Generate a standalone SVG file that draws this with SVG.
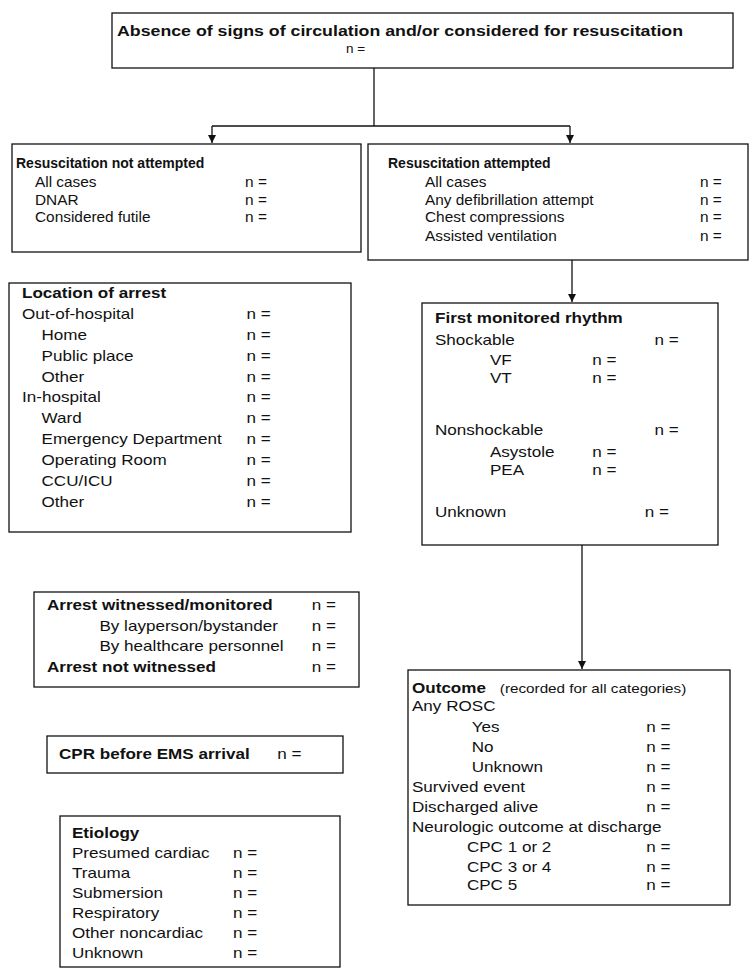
<svg xmlns="http://www.w3.org/2000/svg" width="753" height="975" viewBox="0 0 753 975">
<defs>
<marker id="arr" viewBox="0 0 10 10" refX="10" refY="5" markerWidth="9" markerHeight="8" orient="auto" markerUnits="userSpaceOnUse">
<path d="M0,0 L10,5 L0,10 z" fill="#111"/>
</marker>
<style>
.box{fill:#fff;stroke:#111;stroke-width:1.3}
.c{fill:none;stroke:#111;stroke-width:1.3}
text{font-family:"Liberation Sans",Arial,sans-serif;fill:#111}
.h{font-weight:bold;font-size:14px}
.t{font-size:14px}
.t13{font-size:13.5px}
.s{font-size:12.5px;font-weight:normal}
</style>
</defs>
<rect width="753" height="975" fill="#fff"/>

<g id="connectors">
<path class="c" d="M374,68 V126"/>
<path class="c" d="M212,126 H570"/>
<path class="c" d="M212,126 V143" marker-end="url(#arr)"/>
<path class="c" d="M570,126 V143" marker-end="url(#arr)"/>
<path class="c" d="M572,260 V302" marker-end="url(#arr)"/>
<path class="c" d="M582,545 V669" marker-end="url(#arr)"/>
</g>

<g id="top">
<rect class="box" x="112" y="13" width="621" height="55"/>
<text font-weight="bold" font-size="15" x="117" y="36" textLength="566" lengthAdjust="spacingAndGlyphs">Absence of signs of circulation and/or considered for resuscitation</text>
<text class="t13" x="346" y="53">n =</text>
</g>

<g id="not-attempted">
<rect class="box" x="12" y="144" width="349" height="108"/>
<text class="h" x="16" y="168">Resuscitation not attempted</text>
<g transform="matrix(1.1,0,0,1,-3.5,0)">
<text class="t" x="35" y="187">All cases</text><text class="t" x="226" y="187">n =</text>
<text class="t" x="35" y="205">DNAR</text><text class="t" x="226" y="205">n =</text>
<text class="t" x="35" y="222">Considered futile</text><text class="t" x="226" y="222">n =</text>
</g>
</g>

<g id="attempted">
<rect class="box" x="368" y="144" width="380" height="116"/>
<text class="h" x="388" y="168">Resuscitation attempted</text>
<g transform="matrix(1.1,0,0,1,-42.5,0)">
<text class="t" x="425" y="187">All cases</text><text class="t" x="675" y="187">n =</text>
<text class="t" x="425" y="205">Any defibrillation attempt</text><text class="t" x="675" y="205">n =</text>
<text class="t" x="425" y="222">Chest compressions</text><text class="t" x="675" y="222">n =</text>
<text class="t" x="425" y="241">Assisted ventilation</text><text class="t" x="675" y="241">n =</text>
</g>
</g>

<g id="rhythm">
<rect class="box" x="422" y="303" width="296" height="242"/>
<g transform="matrix(1.22,0,0,1,-95.7,0)">
<text class="h" x="435" y="323">First monitored rhythm</text>
<text class="t" x="435" y="345">Shockable</text><text class="t" x="615" y="345">n =</text>
<text class="t" x="480" y="365">VF</text><text class="t" x="564" y="365">n =</text>
<text class="t" x="480" y="383">VT</text><text class="t" x="564" y="383">n =</text>
<text class="t" x="435" y="435">Nonshockable</text><text class="t" x="615" y="435">n =</text>
<text class="t" x="480" y="457">Asystole</text><text class="t" x="564" y="457">n =</text>
<text class="t" x="480" y="475">PEA</text><text class="t" x="564" y="475">n =</text>
<text class="t" x="435" y="517">Unknown</text><text class="t" x="607" y="517">n =</text>
</g>
</g>

<g id="outcome">
<rect class="box" x="408" y="670" width="322" height="235"/>
<g transform="matrix(1.22,0,0,1,-90.64,0)">
<text class="h" x="412" y="693">Outcome<tspan class="s" x="484">(recorded for all categories)</tspan></text>
<text class="t" x="412" y="711">Any ROSC</text>
<text class="t" x="461" y="732">Yes</text><text class="t" x="604" y="732">n =</text>
<text class="t" x="461" y="752">No</text><text class="t" x="604" y="752">n =</text>
<text class="t" x="461" y="772">Unknown</text><text class="t" x="604" y="772">n =</text>
<text class="t" x="412" y="792">Survived event</text><text class="t" x="604" y="792">n =</text>
<text class="t" x="412" y="812">Discharged alive</text><text class="t" x="604" y="812">n =</text>
<text class="t" x="412" y="832">Neurologic outcome at discharge</text>
<text class="t" x="457" y="852">CPC 1 or 2</text><text class="t" x="604" y="852">n =</text>
<text class="t" x="457" y="872">CPC 3 or 4</text><text class="t" x="604" y="872">n =</text>
<text class="t" x="457" y="890">CPC 5</text><text class="t" x="604" y="890">n =</text>
</g>
</g>

<g id="location">
<rect class="box" x="9" y="283" width="342" height="249"/>
<g transform="matrix(1.22,0,0,1,-4.84,0)">
<text class="h" x="22" y="298">Location of arrest</text>
<text class="t" x="22" y="319">Out-of-hospital</text><text class="t" x="206" y="319">n =</text>
<text class="t" x="38" y="340">Home</text><text class="t" x="206" y="340">n =</text>
<text class="t" x="38" y="361">Public place</text><text class="t" x="206" y="361">n =</text>
<text class="t" x="38" y="382">Other</text><text class="t" x="206" y="382">n =</text>
<text class="t" x="22" y="402">In-hospital</text><text class="t" x="206" y="402">n =</text>
<text class="t" x="38" y="423">Ward</text><text class="t" x="206" y="423">n =</text>
<text class="t" x="38" y="444">Emergency Department</text><text class="t" x="206" y="444">n =</text>
<text class="t" x="38" y="465">Operating Room</text><text class="t" x="206" y="465">n =</text>
<text class="t" x="38" y="486">CCU/ICU</text><text class="t" x="206" y="486">n =</text>
<text class="t" x="38" y="507">Other</text><text class="t" x="206" y="507">n =</text>
</g>
</g>

<g id="witnessed">
<rect class="box" x="34" y="592" width="325" height="95"/>
<g transform="matrix(1.22,0,0,1,-10.34,0)">
<text class="h" x="47" y="610">Arrest witnessed/monitored</text><text class="t" x="264" y="610">n =</text>
<text class="t" x="90" y="631">By layperson/bystander</text><text class="t" x="264" y="631">n =</text>
<text class="t" x="90" y="651">By healthcare personnel</text><text class="t" x="264" y="651">n =</text>
<text class="h" x="47" y="672">Arrest not witnessed</text><text class="t" x="264" y="672">n =</text>
</g>
</g>

<g id="cpr">
<rect class="box" x="47" y="736" width="296" height="37"/>
<g transform="matrix(1.22,0,0,1,-12.98,0)">
<text class="h" x="59" y="759">CPR before EMS arrival</text><text class="t" x="238" y="759">n =</text>
</g>
</g>

<g id="etiology">
<rect class="box" x="60" y="816" width="280" height="151"/>
<g transform="matrix(1.22,0,0,1,-15.84,0)">
<text class="h" x="72" y="838">Etiology</text>
<text class="t" x="72" y="858">Presumed cardiac</text><text class="t" x="204" y="858">n =</text>
<text class="t" x="72" y="878">Trauma</text><text class="t" x="204" y="878">n =</text>
<text class="t" x="72" y="898">Submersion</text><text class="t" x="204" y="898">n =</text>
<text class="t" x="72" y="918">Respiratory</text><text class="t" x="204" y="918">n =</text>
<text class="t" x="72" y="938">Other noncardiac</text><text class="t" x="204" y="938">n =</text>
<text class="t" x="72" y="958">Unknown</text><text class="t" x="204" y="958">n =</text>
</g>
</g>
</svg>
